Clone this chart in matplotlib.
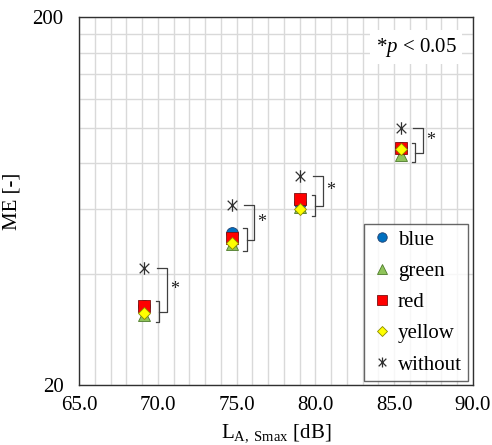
import numpy as np
import matplotlib.pyplot as plt
from matplotlib.path import Path

plt.rcParams["font.family"] = ["Liberation Serif", "DejaVu Serif"]
plt.rcParams["mathtext.fontset"] = "custom"
plt.rcParams["mathtext.rm"] = "Liberation Serif"
plt.rcParams["mathtext.it"] = "Liberation Serif:italic"

# data
levels = [69.15, 74.7, 79.05, 85.4]          # L_A,Smax [dB]
me_blue = [32.8, 51.8, 62.3, 88.0]
me_green = [31.0, 48.3, 60.9, 84.3]
me_red = [32.8, 50.2, 63.9, 88.0]
me_yellow = [31.3, 48.6, 60.0, 87.8]
me_without = [41.5, 61.7, 74.1, 99.7]

x_ticks = [65, 70, 75, 80, 85, 90]
x_tick_labels = ["65.0", "70.0", "75.0", "80.0", "85.0", "90.0"]

# excel style star: x plus vertical line
star = Path(
    [(-1, -1), (1, 1), (-1, 1), (1, -1), (0, -1.3), (0, 1.3)],
    [Path.MOVETO, Path.LINETO, Path.MOVETO, Path.LINETO, Path.MOVETO, Path.LINETO],
)

fig = plt.figure(figsize=(4.92, 4.45), dpi=100)
ax = fig.add_axes([0.1606, 0.1348, 0.8008, 0.827])

ax.set_yscale("log")
ax.set_xlim(65, 90)
ax.set_ylim(20, 200)

# markers
ax.plot(levels, me_blue, "o", ms=8.5, mfc="#0070c0", mec="#1f3f6f", mew=0.6,
        ls="none", label="blue", zorder=3)
ax.plot(levels, me_green, "^", ms=9, mfc="#8fc45a", mec="#4d7a2a", mew=0.6,
        ls="none", label="green", zorder=3)
ax.plot(levels, me_red, "s", ms=8.5, mfc="#ff0000", mec="#7a1010", mew=0.6,
        ls="none", label="red", zorder=4)
ax.plot(levels, me_yellow, "D", ms=6.5, mfc="#ffff00", mec="#8a8a00", mew=0.6,
        ls="none", label="yellow", zorder=5)
ax.plot(levels, me_without, ls="none", marker=star, ms=9, mfc="none",
        mec="#303030", mew=0.9, label="without", zorder=3)

# significance brackets
for i, xg in enumerate(levels):
    cols = [me_blue[i], me_green[i], me_red[i], me_yellow[i]]
    top = max(cols) * 1.03
    bot = min(cols) / 1.045
    mid = np.sqrt(top * bot)
    ax.plot([xg + 0.72, xg + 0.95, xg + 0.95, xg + 0.72], [top, top, bot, bot],
            color="#404040", lw=0.9, zorder=2)
    w = me_without[i]
    ax.plot([xg + 0.8, xg + 1.42, xg + 1.42, xg + 0.95], [w, w, mid, mid],
            color="#404040", lw=0.9, zorder=2)
    ax.text(xg + 1.9, np.sqrt(w * mid), "*", ha="center", va="center",
            fontsize=13, color="#202020")

# axes and grid
ax.set_xticks(x_ticks)
ax.set_xticklabels(x_tick_labels)
ax.set_xticks(np.arange(66, 90, 1), minor=True)
ax.set_yticks([20, 200])
ax.set_yticklabels(["20", "200"])
ax.set_yticks(np.arange(40, 200, 20), minor=True)
ax.yaxis.set_minor_formatter(plt.NullFormatter())
ax.tick_params(which="both", length=0, labelsize=15)
ax.tick_params(axis="x", pad=8)
ax.tick_params(axis="y", pad=11)
ax.grid(True, which="both", color="#d9d9d9", lw=1.0, zorder=0)
ax.set_axisbelow(True)
for s in ax.spines.values():
    s.set_color("#303030")
    s.set_linewidth(1.0)

ax.set_xlabel(r"L$_{\mathrm{A,\ Smax}}$ [dB]", fontsize=15, labelpad=5)
ax.set_ylabel("ME [-]", fontsize=15, labelpad=8)

ax.text(0.959, 0.918, r"*$p$ < 0.05", transform=ax.transAxes, ha="right",
        va="center", fontsize=15,
        bbox=dict(facecolor="white", edgecolor="none", pad=4))

leg = ax.legend(loc="lower right", bbox_to_anchor=(0.987, 0.011), fontsize=15,
                frameon=True, fancybox=False, edgecolor="#404040",
                handlelength=1.1, handletextpad=0.2, labelspacing=0.56,
                borderpad=0.3, borderaxespad=0, markerscale=0.8)
leg.get_frame().set_linewidth(1.0)

fig.savefig("out.png", dpi=100)
